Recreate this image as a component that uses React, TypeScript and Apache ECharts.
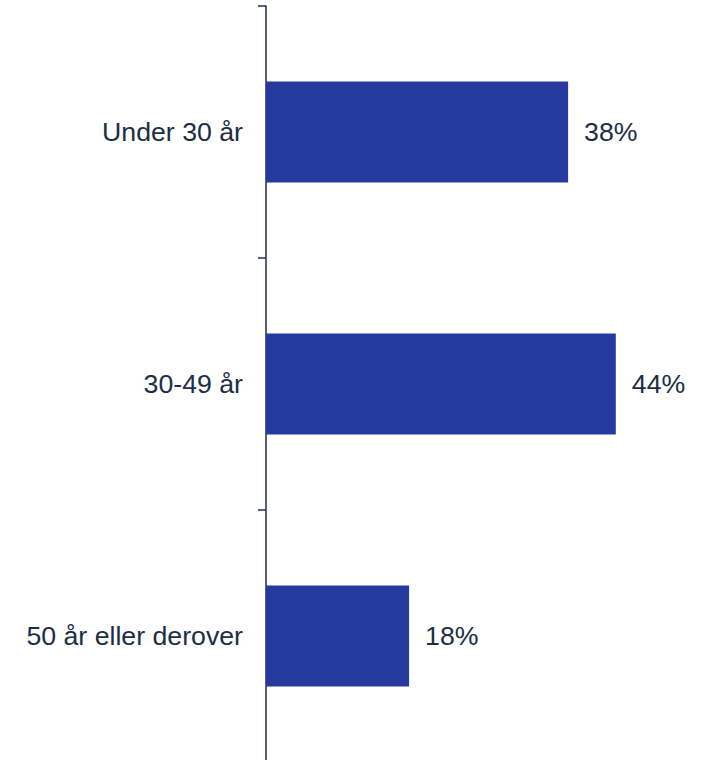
import React, { useEffect, useRef } from "react";
import * as echarts from "echarts";

const categories = ["Under 30 år", "30-49 år", "50 år eller derover"];
const values = [38, 44, 18];

const TEXT = "#1c2e44";
const BAR = "#243a9e";

export default function App() {
  const ref = useRef<HTMLDivElement>(null);
  useEffect(() => {
    if (!ref.current) return;
    const chart = echarts.init(ref.current, undefined, { renderer: "svg" });
    chart.setOption({
      animation: false,
      grid: { left: 266, right: 42.5, top: 6, bottom: 10, containLabel: false },
      xAxis: {
        type: "value",
        min: 0,
        max: 50,
        show: false,
      },
      yAxis: {
        type: "category",
        data: categories,
        inverse: true,
        axisLine: { show: true, lineStyle: { color: TEXT, width: 1.5 } },
        axisTick: { show: true, length: 8, lineStyle: { color: TEXT, width: 1.5 } },
        axisLabel: {
          margin: 23,
          color: TEXT,
          fontSize: 26.7,
          fontFamily: "Liberation Sans, Arial, sans-serif",
        },
      },
      series: [
        {
          type: "bar",
          data: values,
          barWidth: 101,
          itemStyle: { color: BAR },
          label: {
            show: true,
            position: "right",
            distance: 16,
            formatter: "{c}%",
            color: TEXT,
            fontSize: 26.7,
            fontFamily: "Liberation Sans, Arial, sans-serif",
          },
        },
      ],
    });
    return () => chart.dispose();
  }, []);
  return (
    <div
      style={{
        position: "absolute",
        left: 0,
        top: 0,
        width: 706,
        height: 760,
        overflow: "hidden",
      }}
    >
      <div ref={ref} style={{ width: 706, height: 772 }} />
    </div>
  );
}
